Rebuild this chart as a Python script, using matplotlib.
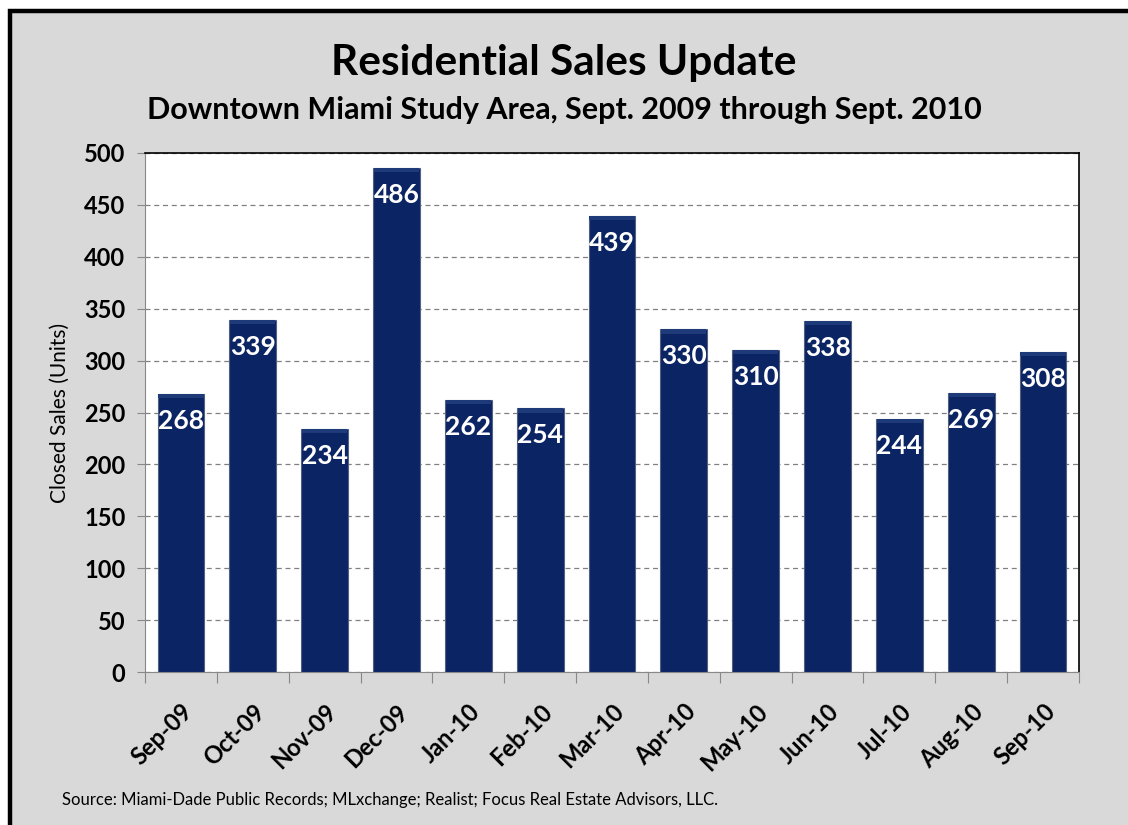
import matplotlib.pyplot as plt
from matplotlib.patches import Rectangle

months = ["Sep-09", "Oct-09", "Nov-09", "Dec-09", "Jan-10", "Feb-10", "Mar-10",
          "Apr-10", "May-10", "Jun-10", "Jul-10", "Aug-10", "Sep-10"]
sales = [268, 339, 234, 486, 262, 254, 439, 330, 310, 338, 244, 269, 308]
y_ticks = list(range(0, 501, 50))

plt.rcParams['font.family'] = ['Lato', 'DejaVu Sans']

fig = plt.figure(figsize=(11.28, 8.25), dpi=100)
fig.patch.set_facecolor('white')

# gray panel with heavy black frame (cut off on right and bottom)
frame = Rectangle((10 / 1128, -0.05), 1.1, 1 - 11 / 825 + 0.05,
                  transform=fig.transFigure, facecolor='#d9d9d9',
                  edgecolor='black', linewidth=3.2, zorder=-5)
fig.patches.append(frame)

ax = fig.add_axes([145 / 1128, 1 - 672 / 825, (1079 - 145) / 1128, (672 - 153) / 825])
ax.set_facecolor('white')

x = list(range(len(months)))
bars = ax.bar(x, sales, width=0.65, color='#0b2463', edgecolor='#55627f',
              linewidth=0.8, zorder=3)
# subtle lighter bevel along each bar top
ax.bar(x, [4] * len(sales), bottom=[s - 4 for s in sales], width=0.63,
       color='#1f3a78', linewidth=0, zorder=4)

for xi, v in zip(x, sales):
    ax.annotate(str(v), (xi, v), xytext=(0, -27), textcoords='offset pixels',
                ha='center', va='center', color='white', fontsize=19,
                fontweight='bold', zorder=5)

ax.set_xlim(-0.5, len(months) - 0.5)
ax.set_ylim(0, 500)
ax.set_yticks(y_ticks)
ax.set_yticklabels([str(t) for t in y_ticks], fontsize=17, fontweight='bold')
ax.yaxis.grid(True, linestyle=(0, (4, 3)), color='#808080', linewidth=0.9, zorder=1)
ax.tick_params(axis='y', length=6, color='#888888', pad=8)

ax.set_xticks([i - 0.5 for i in range(len(months) + 1)])
ax.set_xticklabels([])
ax.tick_params(axis='x', length=8, color='#888888')
ax.set_xticks(x, minor=True)
ax.set_xticklabels(months, minor=True, rotation=45, ha='right', va='top',
                   rotation_mode='anchor', fontsize=17, fontweight='bold')
ax.tick_params(axis='x', which='minor', length=0, pad=20)

for side in ['left', 'bottom']:
    ax.spines[side].set_color('#888888')
for side in ['top', 'right']:
    ax.spines[side].set_color('black')
    ax.spines[side].set_linewidth(1.2)

ax.set_ylabel("Closed Sales (Units)", fontsize=15, labelpad=10)

fig.text(0.5, 1 - 63 / 825, "Residential Sales Update", ha='center', va='center',
         fontsize=30.5, fontweight='bold')
fig.text(0.5, 1 - 110 / 825, "Downtown Miami Study Area, Sept. 2009 through Sept. 2010",
         ha='center', va='center', fontsize=22, fontweight='bold')
fig.text(62 / 1128, 1 - 800 / 825,
         "Source: Miami-Dade Public Records; MLxchange; Realist; Focus Real Estate Advisors, LLC.",
         ha='left', va='center', fontsize=12)

fig.savefig('out.png', dpi=100)
